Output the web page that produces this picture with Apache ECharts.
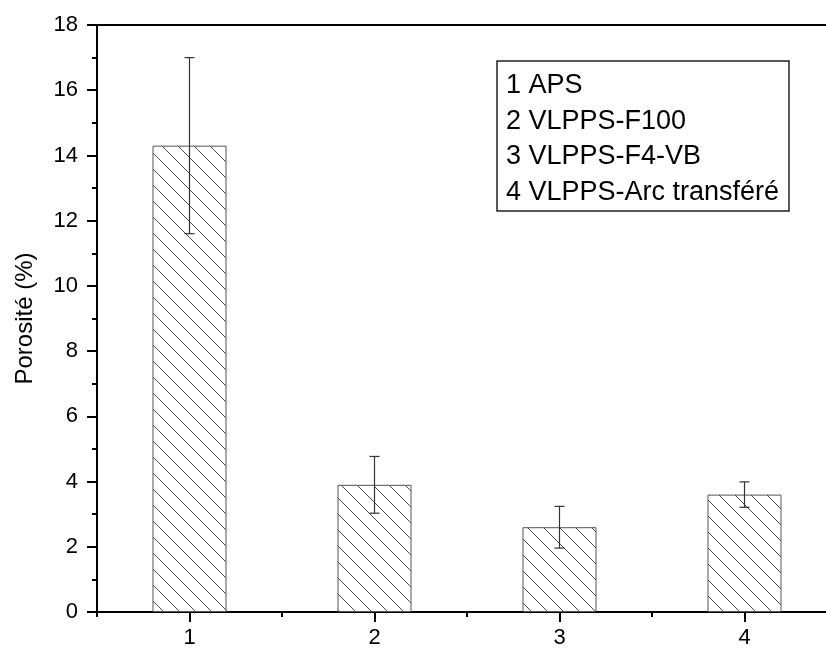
<!DOCTYPE html>
<html>
<head>
<meta charset="utf-8">
<script src="https://cdn.jsdelivr.net/npm/echarts@6/dist/echarts.min.js"></script>
<style>
html,body{margin:0;padding:0;background:#fff;}
#chart{width:826px;height:650px;}
</style>
</head>
<body>
<div id="chart"></div>
<script>
const categories = ['1', '2', '3', '4'];
const porosity = [14.3, 3.9, 2.6, 3.6];
const errors = [2.7, 0.87, 0.64, 0.39];
const legendLines = ['1 APS', '2 VLPPS-F100', '3 VLPPS-F4-VB', '4 VLPPS-Arc transféré'];
const yName = 'Porosité (%)';

const FONT = '"Liberation Sans", Arial, sans-serif';

// hatch pattern
const s = 16;
const cv = document.createElement('canvas');
cv.width = s; cv.height = s;
const ctx = cv.getContext('2d');
ctx.fillStyle = '#fff';
ctx.fillRect(0, 0, s, s);
ctx.strokeStyle = '#4a4a4a';
ctx.lineWidth = 1;
[-s, 0, s].forEach(function (c) {
  ctx.beginPath();
  ctx.moveTo(-2, -2 + c);
  ctx.lineTo(s + 2, s + 2 + c);
  ctx.stroke();
});

const chart = echarts.init(document.getElementById('chart'), null, {renderer: 'canvas'});

const errData = categories.map(function (c, i) { return [i, porosity[i], errors[i]]; });

const legendChildren = [{
  type: 'rect',
  shape: {x: 497, y: 61, width: 292, height: 150},
  style: {fill: '#fff', stroke: '#222', lineWidth: 1.5}
}].concat(legendLines.map(function (t, i) {
  return {
    type: 'text',
    x: 506,
    y: 86 + i * 35.5,
    style: {text: t, fill: '#000', font: '27px ' + FONT, textVerticalAlign: 'middle', textAlign: 'left'}
  };
}));

chart.setOption({
  backgroundColor: '#fff',
  animation: false,
  grid: {left: 97, top: 25, bottom: 38, right: -11, containLabel: false, outerBoundsMode: 'none'},
  xAxis: [
    {
      type: 'category', data: categories, position: 'bottom',
      axisLine: {show: true, lineStyle: {color: '#000', width: 2}},
      axisTick: {show: true, alignWithLabel: true, length: 10, lineStyle: {color: '#000', width: 2}},
      axisLabel: {color: '#000', fontSize: 22, fontFamily: FONT, margin: 15},
      splitLine: {show: false}
    },
    {
      type: 'category', data: categories, position: 'bottom',
      axisLine: {show: false},
      axisTick: {show: true, length: 5, lineStyle: {color: '#000', width: 2}},
      axisLabel: {show: false},
      splitLine: {show: false}
    },
    {
      type: 'category', data: categories, position: 'top',
      axisLine: {show: true, lineStyle: {color: '#000', width: 2}},
      axisTick: {show: false},
      axisLabel: {show: false},
      splitLine: {show: false}
    }
  ],
  yAxis: {
    type: 'value', min: 0, max: 18, interval: 2,
    name: yName, nameLocation: 'middle', nameGap: 60, nameRotate: 90,
    nameTextStyle: {color: '#000', fontSize: 24, fontFamily: FONT},
    axisLine: {show: true, lineStyle: {color: '#000', width: 2}},
    axisTick: {show: true, length: 10, lineStyle: {color: '#000', width: 2}},
    minorTick: {show: true, splitNumber: 2, length: 5, lineStyle: {color: '#000', width: 2}},
    axisLabel: {color: '#000', fontSize: 22, fontFamily: FONT, margin: 19},
    splitLine: {show: false}
  },
  series: [
    {
      type: 'bar', xAxisIndex: 0, data: porosity, barWidth: 74,
      itemStyle: {color: {image: cv, repeat: 'repeat'}, borderColor: '#555', borderWidth: 1},
      z: 2
    },
    {
      type: 'custom', xAxisIndex: 0, data: errData, z: 5,
      renderItem: function (params, api) {
        const x = api.value(0), v = api.value(1), e = api.value(2);
        const top = api.coord([x, v + e]);
        const bot = api.coord([x, v - e]);
        const hw = 5;
        const st = {stroke: '#333', lineWidth: 1.2};
        return {
          type: 'group',
          children: [
            {type: 'line', shape: {x1: top[0], y1: top[1], x2: bot[0], y2: bot[1]}, style: st},
            {type: 'line', shape: {x1: top[0] - hw, y1: top[1], x2: top[0] + hw, y2: top[1]}, style: st},
            {type: 'line', shape: {x1: bot[0] - hw, y1: bot[1], x2: bot[0] + hw, y2: bot[1]}, style: st}
          ]
        };
      }
    }
  ],
  graphic: [{type: 'group', children: legendChildren}]
});
</script>
</body>
</html>
